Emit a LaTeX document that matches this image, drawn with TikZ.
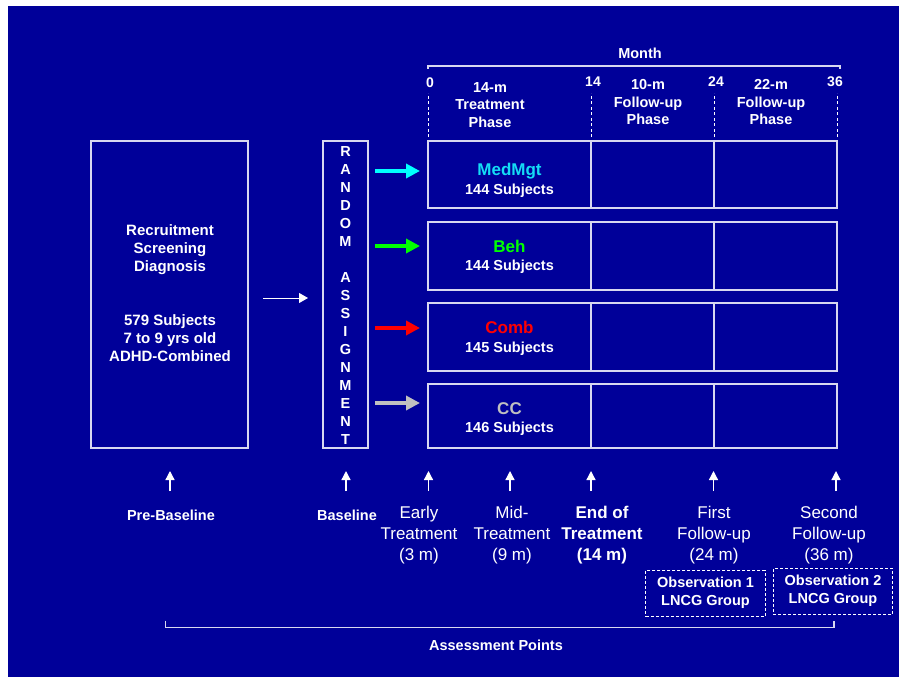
\documentclass[tikz,border=0pt]{standalone}
\usepackage{fontspec}
\setmainfont{Liberation Sans}
\usetikzlibrary{arrows.meta}
\definecolor{bg}{RGB}{0,0,153}
\definecolor{ln}{RGB}{215,215,240}
\definecolor{medc}{RGB}{20,220,245}
\definecolor{meda}{RGB}{0,255,255}
\definecolor{behc}{RGB}{0,255,0}
\definecolor{combc}{RGB}{255,0,0}
\definecolor{ccc}{RGB}{192,192,192}
\tikzset{
  box/.style={draw=ln, line width=1.1pt, inner sep=0pt, outer sep=0pt},
  boxtxt/.style={text=white, font=\fontsize{15}{18}\selectfont\bfseries, align=center, inner sep=0pt},
  randtxt/.style={text=white, font=\fontsize{14.5}{18}\selectfont\bfseries, align=center, inner sep=0pt},
  grpname/.style={font=\fontsize{17}{20}\selectfont\bfseries, text height=12.2pt, text depth=0pt, inner sep=0pt},
  subj/.style={text=white, font=\fontsize{14.5}{17}\selectfont\bfseries, text height=10.4pt, text depth=0pt, inner sep=0pt},
  hdr/.style={text=white, font=\fontsize{14.5}{17.5}\selectfont\bfseries, align=center, inner sep=0pt},
  numlab/.style={text=white, font=\fontsize{14}{17}\selectfont\bfseries, text height=10pt, text depth=0pt, inner sep=0pt},
  smlab/.style={text=white, font=\fontsize{14.5}{17}\selectfont\bfseries, text height=10.4pt, text depth=0pt, inner sep=0pt},
  biglab/.style={text=white, font=\fontsize{17}{21}\selectfont, align=center, inner sep=0pt},
  bigbold/.style={text=white, font=\fontsize{17}{21}\selectfont\bfseries, align=center, inner sep=0pt},
  grparr/.style={line width=4.3pt, -{Triangle[length=14pt,width=14pt]}},
  thinarr/.style={draw=white, line width=1pt, -{Triangle[length=9pt,width=10pt]}},
  uparr/.style={draw=white, line width=1.3pt, -{Triangle[length=9pt,width=9pt]}},
  dashv/.style={draw=white, line width=1pt, dash pattern=on 3pt off 2.5pt},
  obsbox/.style={draw=white, line width=1pt, dash pattern=on 3pt off 2pt, minimum width=119.5pt, minimum height=45.7pt, inner sep=0pt, text=white, font=\fontsize{14.5}{18}\selectfont\bfseries, align=center},
  rule/.style={draw=ln, line width=1.1pt}
}
\begin{document}
\begin{tikzpicture}[x=1pt,y=-1pt]
\useasboundingbox (0,0) rectangle (899,677);
\fill[white] (0,0) rectangle (899,677);
\fill[bg] (8,6) rectangle (899,677);

% left box
\node[box, minimum width=157pt, minimum height=307pt] (scr) at (169.5,294.5) {};
\node[boxtxt] (scrtxt) at (170,293) {Recruitment\\Screening\\Diagnosis\\[36pt]579 Subjects\\7 to 9 yrs old\\ADHD-Combined};

% random assignment
\node[box, minimum width=45pt, minimum height=307pt] (rand) at (345.5,294.5) {};
\node[randtxt] (randtxt) at (345.5,296) {R\\A\\N\\D\\O\\M\\[18pt]A\\S\\S\\I\\G\\N\\M\\E\\N\\T};

\draw[thinarr] ([xshift=15pt]scr.east |- 0,298) -- ([xshift=-15pt]rand.west |- 0,298);

% group rows
\foreach \r/\cy/\h in {1/174.5/67, 2/256/68, 3/337/68, 4/416/64}{
  \node[box, minimum width=163pt, minimum height=\h pt] (ra\r) at (509.5,\cy) {};
  \node[box, minimum width=123pt, minimum height=\h pt] (rb\r) at (652.5,\cy) {};
  \node[box, minimum width=123pt, minimum height=\h pt] (rc\r) at (775.5,\cy) {};
}
\node[grpname, text=medc] (gn1) at (509.5,169) {MedMgt};
\node[subj] (gs1) at (509.5,189) {144 Subjects};
\node[grpname, text=behc] (gn2) at (509.5,246) {Beh};
\node[subj] (gs2) at (509.5,265) {144 Subjects};
\node[grpname, text=combc] (gn3) at (509.5,327) {Comb};
\node[subj] (gs3) at (509.5,347) {145 Subjects};
\node[grpname, text=ccc] (gn4) at (509.5,408) {CC};
\node[subj] (gs4) at (509.5,427) {146 Subjects};

\draw[grparr, draw=meda, fill=meda] ([xshift=7pt]rand.east |- 0,171) -- ([xshift=-8pt]ra1.west |- 0,171);
\draw[grparr, draw=behc, fill=behc] ([xshift=7pt]rand.east |- 0,246) -- ([xshift=-8pt]ra2.west |- 0,246);
\draw[grparr, draw=combc, fill=combc] ([xshift=7pt]rand.east |- 0,328) -- ([xshift=-8pt]ra3.west |- 0,328);
\draw[grparr, draw=ccc, fill=ccc] ([xshift=7pt]rand.east |- 0,403) -- ([xshift=-8pt]ra4.west |- 0,403);

% header
\node[hdr] (month) at (640,53) {Month};
\coordinate (hl) at (428,66);
\coordinate (hr) at (840,66);
\draw[rule] ([yshift=-3pt]hl) -- (hl) -- (hr) -- ([yshift=-3pt]hr);
\node[numlab] (m0) at (430,82) {0};
\node[numlab] (m14) at (593,81) {14};
\node[numlab] (m24) at (716,81) {24};
\node[numlab] (m36) at (835,81) {36};
\draw[dashv] ([yshift=4pt]ra1.north west) -- ([yshift=48pt]ra1.north west);
\draw[dashv] ([yshift=4pt]rb1.north west) -- ([yshift=48pt]rb1.north west);
\draw[dashv] ([yshift=4pt]rc1.north west) -- ([yshift=48pt]rc1.north west);
\draw[dashv] ([yshift=4pt]rc1.north east) -- ([yshift=48pt]rc1.north east);
\node[hdr] (ph1) at (490,105) {14-m\\Treatment\\Phase};
\node[hdr] (ph2) at (648,102.5) {10-m\\Follow-up\\Phase};
\node[hdr] (ph3) at (771,102.5) {22-m\\Follow-up\\Phase};

% assessment arrows
\foreach \i/\x in {1/170, 2/346, 3/428.5, 4/510, 5/591, 6/713.5, 7/836}{
  \coordinate (ua\i) at (\x,491);
  \coordinate (ub\i) at (\x,471);
  \draw[uparr] (ua\i) -- (ub\i);
}
\node[smlab] (pre) at (171,515) {Pre-Baseline};
\node[smlab] (base) at (347,515) {Baseline};
\node[biglab] (early) at (419,535) {Early\\Treatment\\(3 m)};
\node[biglab] (midt) at (512,535) {Mid-\\Treatment\\(9 m)};
\node[bigbold] (endt) at (602,535) {End of\\Treatment\\(14 m)};
\node[biglab] (first) at (714,535) {First\\Follow-up\\(24 m)};
\node[biglab] (second) at (829,535) {Second\\Follow-up\\(36 m)};

\node[obsbox] (obs1) at (705.5,593.2) {Observation 1\\LNCG Group};
\node[obsbox] (obs2) at (833,591.2) {Observation 2\\LNCG Group};

% bracket
\coordinate (bl) at (165.7,627.7);
\coordinate (br) at (834,627.7);
\draw[rule] ([yshift=7pt]bl) -- (bl) -- (br) -- ([yshift=7pt]br);
\node[smlab] (assess) at (496,645) {Assessment Points};
\end{tikzpicture}
\end{document}
